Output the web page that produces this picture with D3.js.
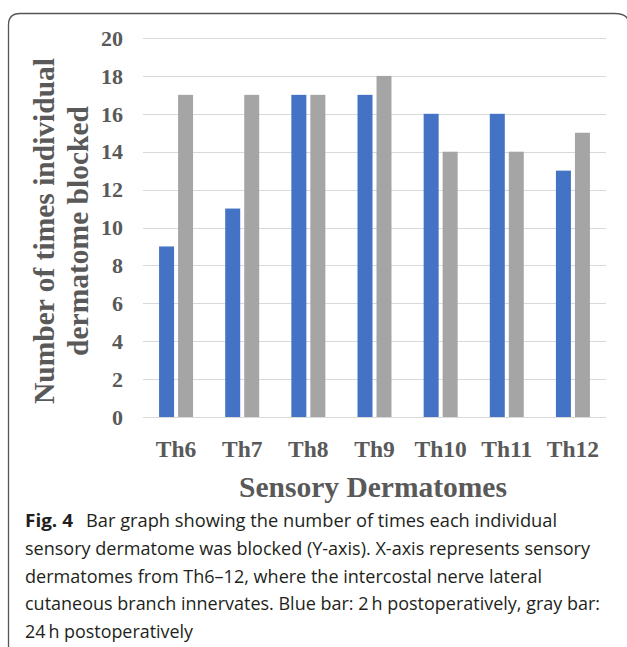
<!DOCTYPE html>
<html>
<head>
<meta charset="utf-8">
<script src="https://cdn.jsdelivr.net/npm/d3@7"></script>
<style>
  body { margin: 0; background: #fff; }
  svg { display: block; }
</style>
</head>
<body>
<div id="chart"></div>
<script>
// data
const dermatomes = ["Th6", "Th7", "Th8", "Th9", "Th10", "Th11", "Th12"];
const blocked2h = [9, 11, 17, 17, 16, 16, 13];
const blocked24h = [17, 17, 17, 18, 14, 14, 15];
const yTicks = [0, 2, 4, 6, 8, 10, 12, 14, 16, 18, 20];
const captionLines = [
    "Bar graph showing the number of times each individual",
    "sensory dermatome was blocked (Y-axis). X-axis represents sensory",
    "dermatomes from Th6\u201312, where the intercostal nerve lateral",
    "cutaneous branch innervates. Blue bar: 2\u2009h postoperatively, gray bar:",
    "24\u2009h postoperatively"
];
// where each caption line starts and ends in the figure (layout only)
const captionStart = [86, 25, 25, 25, 25];
const captionEnd = [557, 590, 542, 600, 193];

const width = 627, height = 647;
const svg = d3.select("#chart").append("svg")
    .attr("width", width)
    .attr("height", height);

// frame round the figure
svg.append("path")
    .attr("d", "M8.5,660 L8.5,25 Q8.5,13.5 20,13.5 L614,13.5 Q626,13.5 628,20")
    .attr("fill", "none")
    .attr("stroke", "#555")
    .attr("stroke-width", 1.3);

const plot = { left: 143, right: 606, top: 38, bottom: 417 };

const x = d3.scaleBand()
    .domain(dermatomes)
    .range([plot.left, plot.right])
    .paddingInner(0)
    .paddingOuter(0);

const y = d3.scaleLinear()
    .domain([0, 20])
    .range([plot.bottom, plot.top]);

const barW = 15, barGap = 4;
const textColor = "#595959";
const serif = "'Liberation Serif', 'DejaVu Serif', serif";

// gridlines
svg.append("g")
    .selectAll("line")
    .data(yTicks)
    .enter().append("line")
    .attr("x1", plot.left)
    .attr("x2", plot.right)
    .attr("y1", d => Math.round(y(d)) + 0.5)
    .attr("y2", d => Math.round(y(d)) + 0.5)
    .attr("stroke", "#d9d9d9")
    .attr("stroke-width", 1);

// y tick labels
svg.append("g")
    .selectAll("text")
    .data(yTicks)
    .enter().append("text")
    .attr("x", 123)
    .attr("y", d => y(d))
    .attr("dy", "0.35em")
    .attr("text-anchor", "end")
    .attr("font-family", serif)
    .attr("font-weight", "bold")
    .attr("font-size", 22)
    .attr("fill", textColor)
    .text(d => d);

// bars
const center = d => x(d) + x.bandwidth() / 2;

svg.append("g")
    .selectAll("rect")
    .data(dermatomes)
    .enter().append("rect")
    .attr("x", d => center(d) - barGap / 2 - barW)
    .attr("y", (d, i) => y(blocked2h[i]))
    .attr("width", barW)
    .attr("height", (d, i) => y(0) - y(blocked2h[i]))
    .attr("fill", "#4472c4");

svg.append("g")
    .selectAll("rect")
    .data(dermatomes)
    .enter().append("rect")
    .attr("x", d => center(d) + barGap / 2)
    .attr("y", (d, i) => y(blocked24h[i]))
    .attr("width", barW)
    .attr("height", (d, i) => y(0) - y(blocked24h[i]))
    .attr("fill", "#a5a5a5");

// x tick labels
svg.append("g")
    .selectAll("text")
    .data(dermatomes)
    .enter().append("text")
    .attr("x", d => center(d))
    .attr("y", 457)
    .attr("text-anchor", "middle")
    .attr("font-family", serif)
    .attr("font-weight", "bold")
    .attr("font-size", 23.5)
    .attr("fill", textColor)
    .text(d => d);

// axis titles
svg.append("text")
    .attr("x", 373)
    .attr("y", 497)
    .attr("text-anchor", "middle")
    .attr("font-family", serif)
    .attr("font-weight", "bold")
    .attr("font-size", 29.5)
    .attr("fill", textColor)
    .text("Sensory Dermatomes");

const yTitle = svg.append("text")
    .attr("transform", "translate(0,231) rotate(-90)")
    .attr("text-anchor", "middle")
    .attr("font-family", serif)
    .attr("font-weight", "bold")
    .attr("font-size", 29.5)
    .attr("fill", textColor);

yTitle.append("tspan").attr("x", 0).attr("y", 54).text("Number of times individual");
yTitle.append("tspan").attr("x", 0).attr("y", 88).text("dermatome blocked");

// caption
const sans = "'Open Sans', 'Noto Sans', sans-serif";
const cap = svg.append("g")
    .attr("font-family", sans)
    .attr("font-size", 18)
    .attr("fill", "#231f20");

cap.append("text")
    .attr("x", 25)
    .attr("y", 527)
    .attr("font-weight", "bold")
    .attr("font-size", 18.5)
    .attr("textLength", 48)
    .attr("lengthAdjust", "spacingAndGlyphs")
    .text("Fig. 4");

cap.selectAll("text.line")
    .data(captionLines)
    .enter().append("text")
    .attr("class", "line")
    .attr("x", (d, i) => captionStart[i])
    .attr("y", (d, i) => 527 + i * 27.8)
    .attr("textLength", (d, i) => captionEnd[i] - captionStart[i])
    .attr("lengthAdjust", "spacingAndGlyphs")
    .text(d => d);
</script>
</body>
</html>
